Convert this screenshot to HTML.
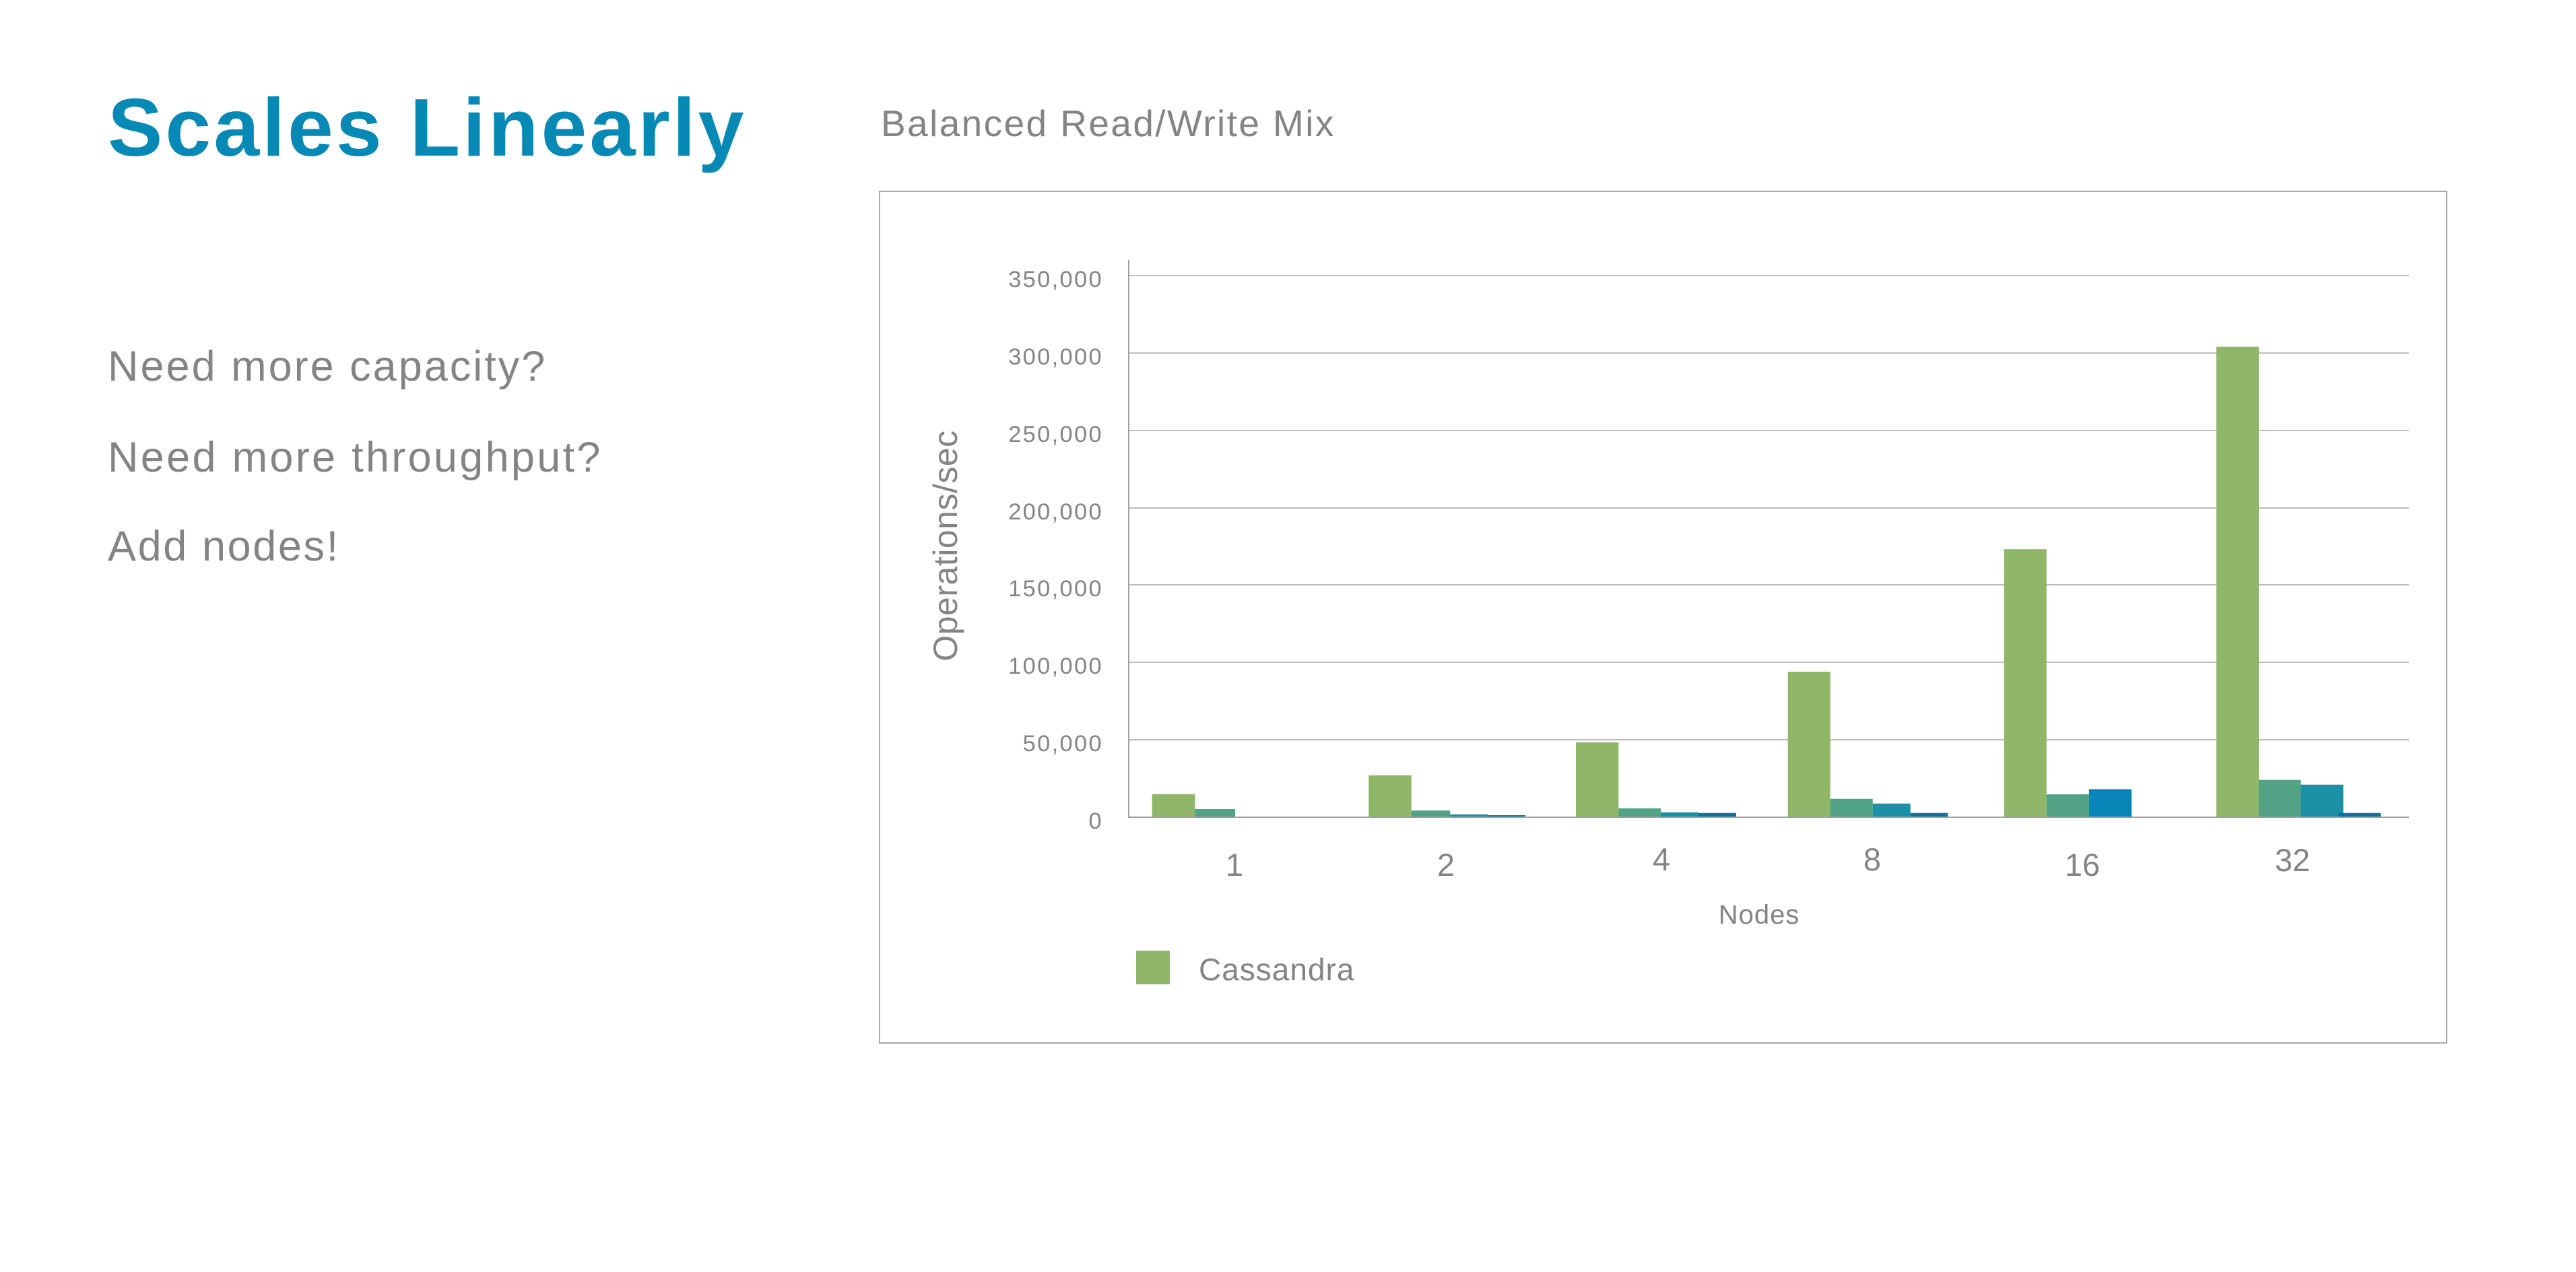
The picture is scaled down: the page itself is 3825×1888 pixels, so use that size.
<!DOCTYPE html>
<html>
<head>
<meta charset="utf-8">
<style>
  html, body { margin:0; padding:0; background:#ffffff; }
  body { width:3825px; height:1888px; overflow:hidden; }
  svg { display:block; }
  text { font-family: "Liberation Sans", "DejaVu Sans", sans-serif; }
</style>
</head>
<body>
<svg width="3825" height="1888" viewBox="0 0 3825 1888" xmlns="http://www.w3.org/2000/svg">
  <rect x="0" y="0" width="3825" height="1888" fill="#ffffff"/>

  <!-- Left column -->
  <text x="160" y="231" font-size="122" font-weight="bold" fill="#0789b5" letter-spacing="4">Scales Linearly</text>
  <text x="160" y="565" font-size="63" fill="#848484" letter-spacing="3">Need more capacity?</text>
  <text x="160" y="700" font-size="63" fill="#848484" letter-spacing="3.3">Need more throughput?</text>
  <text x="160" y="832" font-size="63" fill="#848484" letter-spacing="2.6">Add nodes!</text>

  <!-- Chart subtitle -->
  <text x="1308" y="202" font-size="55" fill="#848484" letter-spacing="2.4">Balanced Read/Write Mix</text>

  <!-- Chart frame -->
  <rect x="1306" y="284" width="2327" height="1264" fill="none" stroke="#a8a8a8" stroke-width="2"/>

  <!-- Gridlines -->
  <g stroke="#bcbcbc" stroke-width="2">
    <line x1="1676" y1="409" x2="3577" y2="409"/>
    <line x1="1676" y1="524" x2="3577" y2="524"/>
    <line x1="1676" y1="639" x2="3577" y2="639"/>
    <line x1="1676" y1="754" x2="3577" y2="754"/>
    <line x1="1676" y1="868" x2="3577" y2="868"/>
    <line x1="1676" y1="983" x2="3577" y2="983"/>
    <line x1="1676" y1="1098" x2="3577" y2="1098"/>
  </g>

  <!-- Y tick labels -->
  <g font-size="34.5" fill="#848484" letter-spacing="2.3" text-anchor="end">
    <text x="1638" y="426">350,000</text>
    <text x="1638" y="541">300,000</text>
    <text x="1638" y="656">250,000</text>
    <text x="1638" y="771">200,000</text>
    <text x="1638" y="885">150,000</text>
    <text x="1638" y="1000">100,000</text>
    <text x="1638" y="1115">50,000</text>
    <text x="1638" y="1230">0</text>
  </g>

  <!-- Y axis title -->
  <text transform="translate(1421,810) rotate(-90)" text-anchor="middle" font-size="50" fill="#848484" letter-spacing="0.5">Operations/sec</text>

  <!-- Bars -->
  <!-- group 1 -->
  <rect x="1771" y="1201" width="63" height="12" fill="#52a385"/>
  <rect x="1710.6" y="1178.7" width="64" height="34.3" fill="#8fb669"/>
  <!-- group 2 -->
  <rect x="2090.3" y="1203" width="63" height="10" fill="#52a385"/>
  <rect x="2032.3" y="1150.7" width="63.4" height="62.3" fill="#8fb669"/>
  <rect x="2153.3" y="1208.7" width="56" height="4.3" fill="#1c91a6"/>
  <rect x="2209.3" y="1210" width="55.7" height="3" fill="#0a7397"/>
  <!-- group 4 -->
  <rect x="2340" y="1101.7" width="63.3" height="111.3" fill="#8fb669"/>
  <rect x="2403.3" y="1199.7" width="62.7" height="13.3" fill="#52a385"/>
  <rect x="2466" y="1205.7" width="56" height="7.3" fill="#1c91a6"/>
  <rect x="2522" y="1206.7" width="56" height="6.3" fill="#0a7397"/>
  <!-- group 8 -->
  <rect x="2654.7" y="997" width="63" height="216" fill="#8fb669"/>
  <rect x="2717.7" y="1185.7" width="63" height="27.3" fill="#52a385"/>
  <rect x="2780.7" y="1192.7" width="56" height="20.3" fill="#1c91a6"/>
  <rect x="2836.7" y="1206.7" width="55.6" height="6.3" fill="#0a7397"/>
  <!-- group 16 -->
  <rect x="2975.8" y="815.2" width="63" height="397.8" fill="#8fb669"/>
  <rect x="3038.8" y="1179" width="63" height="34" fill="#52a385"/>
  <rect x="3101.8" y="1171.4" width="63.4" height="41.6" fill="#0886b8"/>
  <!-- group 32 -->
  <rect x="3291" y="514.7" width="63" height="698.3" fill="#8fb669"/>
  <rect x="3354" y="1157.6" width="62.5" height="55.4" fill="#52a385"/>
  <rect x="3416.5" y="1164.7" width="63" height="48.3" fill="#1c91a6"/>
  <rect x="3472" y="1206.7" width="63" height="6.3" fill="#0a7397"/>

  <!-- Baseline and Y axis -->
  <line x1="1676" y1="1213" x2="3577" y2="1213" stroke="#a0a0a0" stroke-width="2"/>
  <line x1="1676" y1="386" x2="1676" y2="1214" stroke="#a0a0a0" stroke-width="2"/>

  <!-- X tick labels -->
  <g font-size="47" fill="#848484" text-anchor="middle">
    <text x="1833" y="1300">1</text>
    <text x="2147" y="1300">2</text>
    <text x="2467" y="1292">4</text>
    <text x="2780" y="1292">8</text>
    <text x="3092" y="1300">16</text>
    <text x="3404" y="1293">32</text>
  </g>

  <!-- X axis title -->
  <text x="2612" y="1371" font-size="40" fill="#848484" text-anchor="middle" letter-spacing="1">Nodes</text>

  <!-- Legend -->
  <rect x="1687" y="1411" width="50" height="50" fill="#8fb669"/>
  <text x="1780" y="1455" font-size="46" fill="#848484" letter-spacing="1">Cassandra</text>
</svg>
</body>
</html>
